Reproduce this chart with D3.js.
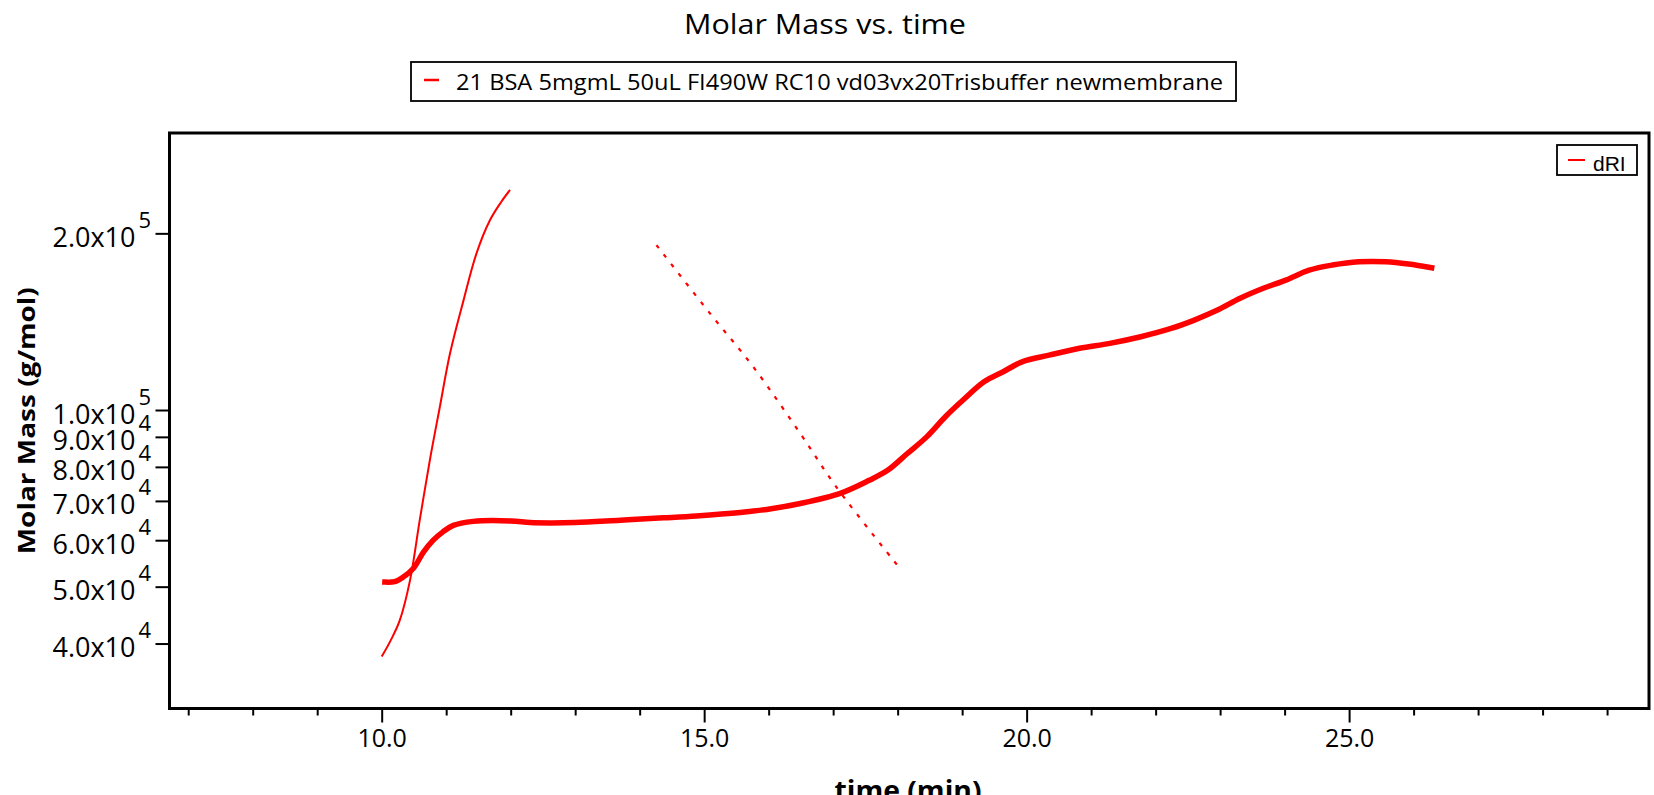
<!DOCTYPE html>
<html>
<head>
<meta charset="utf-8">
<script src="https://cdn.jsdelivr.net/npm/d3@7"></script>
<style>
  html, body { margin: 0; padding: 0; background: #fff; overflow: hidden; }
  svg { display: block; }
</style>
</head>
<body>
<svg id="chart" width="1654" height="795"></svg>
<script>
// ---- Data ----
const chartTitle = "Molar Mass vs. time";
const seriesName = "21 BSA 5mgmL 50uL FI490W RC10 vd03vx20Trisbuffer newmembrane";
const detectorName = "dRI";
const xAxisTitle = "time (min)";
const yAxisTitle = "Molar Mass (g/mol)";

// Molar mass trace (thick stepped red)
const massTime  = [10.05, 10.2, 10.33, 10.49, 10.65, 10.80, 10.95, 11.11, 11.42, 12.0, 12.3, 12.61, 13.0, 13.70, 14.37, 14.88, 15.56, 15.97, 16.49, 17.11, 17.56, 17.85, 18.15, 18.45, 18.74, 19.04, 19.34, 19.63, 19.93, 20.35, 20.82, 21.29, 21.77, 22.24, 22.6, 22.96, 23.31, 23.67, 24.02, 24.38, 24.74, 25.15, 25.57, 25.92, 26.28];
const massValue = [50900, 51000, 51900, 53700, 57300, 60000, 62000, 63600, 64600, 64700, 64300, 64200, 64300, 64900, 65500, 66000, 66900, 67700, 69300, 72100, 75900, 79000, 84300, 90000, 97400, 104600, 111700, 116100, 120800, 124000, 127400, 129900, 133300, 137700, 142300, 148000, 155000, 161200, 166500, 173100, 176600, 178900, 178900, 177300, 174700];

// Steep thin fit curve
const steepTime  = [10.0, 10.14, 10.28, 10.44, 10.59, 10.75, 10.90, 11.06, 11.27, 11.47, 11.68, 11.85, 11.99];
const steepValue = [38000, 40500, 43800, 51300, 64900, 82500, 101000, 124900, 153900, 184900, 210700, 226000, 237100];

// Dashed descending curve
const dashTime  = [14.26, 15.09, 15.76, 16.49, 17.05, 18.06];
const dashValue = [191000, 146100, 118500, 91200, 73900, 53300];

// Axis ticks
const xMajorTicks = [10, 15, 20, 25];
const xMinorTicks = [7, 8, 9, 11, 12, 13, 14, 16, 17, 18, 19, 21, 22, 23, 24, 26, 27, 28, 29];
const yTicks = [40000, 50000, 60000, 70000, 80000, 90000, 100000, 200000];
const xDomain = [6.71, 29.65];
const yDomain = [31000, 296500];

// ---- Layout ----
const plot = { left: 169.5, top: 133, right: 1649, bottom: 708.5 };
const FONT = "'Open Sans', 'Noto Sans', sans-serif";
const RED = "#ff0000";

const svg = d3.select("#chart");

const x = d3.scaleLinear().domain(xDomain).range([plot.left, plot.right]);
const y = d3.scaleLog().domain(yDomain).range([plot.bottom, plot.top]);

// Title
svg.append("text")
  .attr("x", 825).attr("y", 34)
  .attr("text-anchor", "middle")
  .attr("font-family", FONT).attr("font-size", 27)
  .attr("textLength", 282).attr("lengthAdjust", "spacingAndGlyphs")
  .text(chartTitle);

// Top legend
const lg = svg.append("g");
lg.append("rect").attr("x", 411).attr("y", 62).attr("width", 825).attr("height", 39)
  .attr("fill", "#fff").attr("stroke", "#000").attr("stroke-width", 1.8);
lg.append("line").attr("x1", 424).attr("x2", 439).attr("y1", 80).attr("y2", 80)
  .attr("stroke", RED).attr("stroke-width", 2.5);
lg.append("text").attr("x", 456).attr("y", 90)
  .attr("font-family", FONT).attr("font-size", 22)
  .attr("textLength", 767).attr("lengthAdjust", "spacingAndGlyphs")
  .text(seriesName);

// Clip
svg.append("clipPath").attr("id", "clip").append("rect")
  .attr("x", plot.left).attr("y", plot.top)
  .attr("width", plot.right - plot.left).attr("height", plot.bottom - plot.top);

const gData = svg.append("g").attr("clip-path", "url(#clip)");

const line = d3.line().x(d => x(d[0])).y(d => y(d[1])).curve(d3.curveCatmullRom.alpha(0.5));

gData.append("path")
  .datum(steepTime.map((t, i) => [t, steepValue[i]]))
  .attr("d", line).attr("fill", "none").attr("stroke", RED).attr("stroke-width", 2);

gData.append("path")
  .datum(dashTime.map((t, i) => [t, dashValue[i]]))
  .attr("d", line).attr("fill", "none").attr("stroke", RED).attr("stroke-width", 2.2)
  .attr("stroke-dasharray", "4,8");

gData.append("path")
  .datum(massTime.map((t, i) => [t, massValue[i]]))
  .attr("d", line).attr("fill", "none").attr("stroke", RED).attr("stroke-width", 5.5)
  .attr("stroke-linecap", "square");

// Frame
svg.append("rect")
  .attr("x", plot.left).attr("y", plot.top)
  .attr("width", plot.right - plot.left).attr("height", plot.bottom - plot.top)
  .attr("fill", "none").attr("stroke", "#000").attr("stroke-width", 3);

// X axis: minor + major
const xMinor = svg.append("g").attr("transform", `translate(0,${plot.bottom})`)
  .call(d3.axisBottom(x).tickValues(xMinorTicks).tickSize(7).tickFormat(""));
const xMajor = svg.append("g").attr("transform", `translate(0,${plot.bottom})`)
  .call(d3.axisBottom(x).tickValues(xMajorTicks).tickSize(14).tickPadding(7).tickFormat(d3.format(".1f")));
[xMinor, xMajor].forEach(g => {
  g.select(".domain").remove();
  g.selectAll(".tick line").attr("stroke", "#000").attr("stroke-width", 2);
});
xMajor.selectAll(".tick text")
  .attr("font-family", FONT).attr("font-size", 25).attr("fill", "#000");

// Y axis
const yAx = svg.append("g").attr("transform", `translate(${plot.left},0)`)
  .call(d3.axisLeft(y).tickValues(yTicks).tickSize(14).tickFormat(""));
yAx.select(".domain").remove();
yAx.selectAll(".tick line").attr("stroke", "#000").attr("stroke-width", 2);
yAx.selectAll(".tick").each(function(d) {
  const exp = Math.floor(Math.log10(d) + 1e-9);
  const mant = d / Math.pow(10, exp);
  const g = d3.select(this);
  g.append("text")
    .attr("x", -34).attr("y", 13)
    .attr("text-anchor", "end")
    .attr("font-family", FONT).attr("font-size", 27).attr("fill", "#000")
    .text(mant.toFixed(1) + "x10");
  g.append("text")
    .attr("x", -31).attr("y", -6)
    .attr("text-anchor", "start")
    .attr("font-family", FONT).attr("font-size", 22).attr("fill", "#000")
    .text(exp);
});

// Axis titles
svg.append("text")
  .attr("transform", `translate(35,${(plot.top + plot.bottom) / 2}) rotate(-90)`)
  .attr("text-anchor", "middle")
  .attr("font-family", FONT).attr("font-size", 24).attr("font-weight", "bold")
  .attr("textLength", 267).attr("lengthAdjust", "spacingAndGlyphs")
  .text(yAxisTitle);

svg.append("text")
  .attr("x", 908).attr("y", 800)
  .attr("text-anchor", "middle")
  .attr("font-family", FONT).attr("font-size", 26).attr("font-weight", "bold")
  .attr("textLength", 147).attr("lengthAdjust", "spacingAndGlyphs")
  .text(xAxisTitle);

// dRI legend
const dl = svg.append("g");
dl.append("rect").attr("x", 1557).attr("y", 145).attr("width", 80).attr("height", 30)
  .attr("fill", "#fff").attr("stroke", "#000").attr("stroke-width", 1.8);
dl.append("line").attr("x1", 1568).attr("x2", 1585).attr("y1", 160).attr("y2", 160)
  .attr("stroke", RED).attr("stroke-width", 2);
dl.append("text").attr("x", 1593).attr("y", 171)
  .attr("font-family", "'Liberation Sans', Arial, sans-serif").attr("font-size", 21)
  .text(detectorName);
</script>
</body>
</html>
